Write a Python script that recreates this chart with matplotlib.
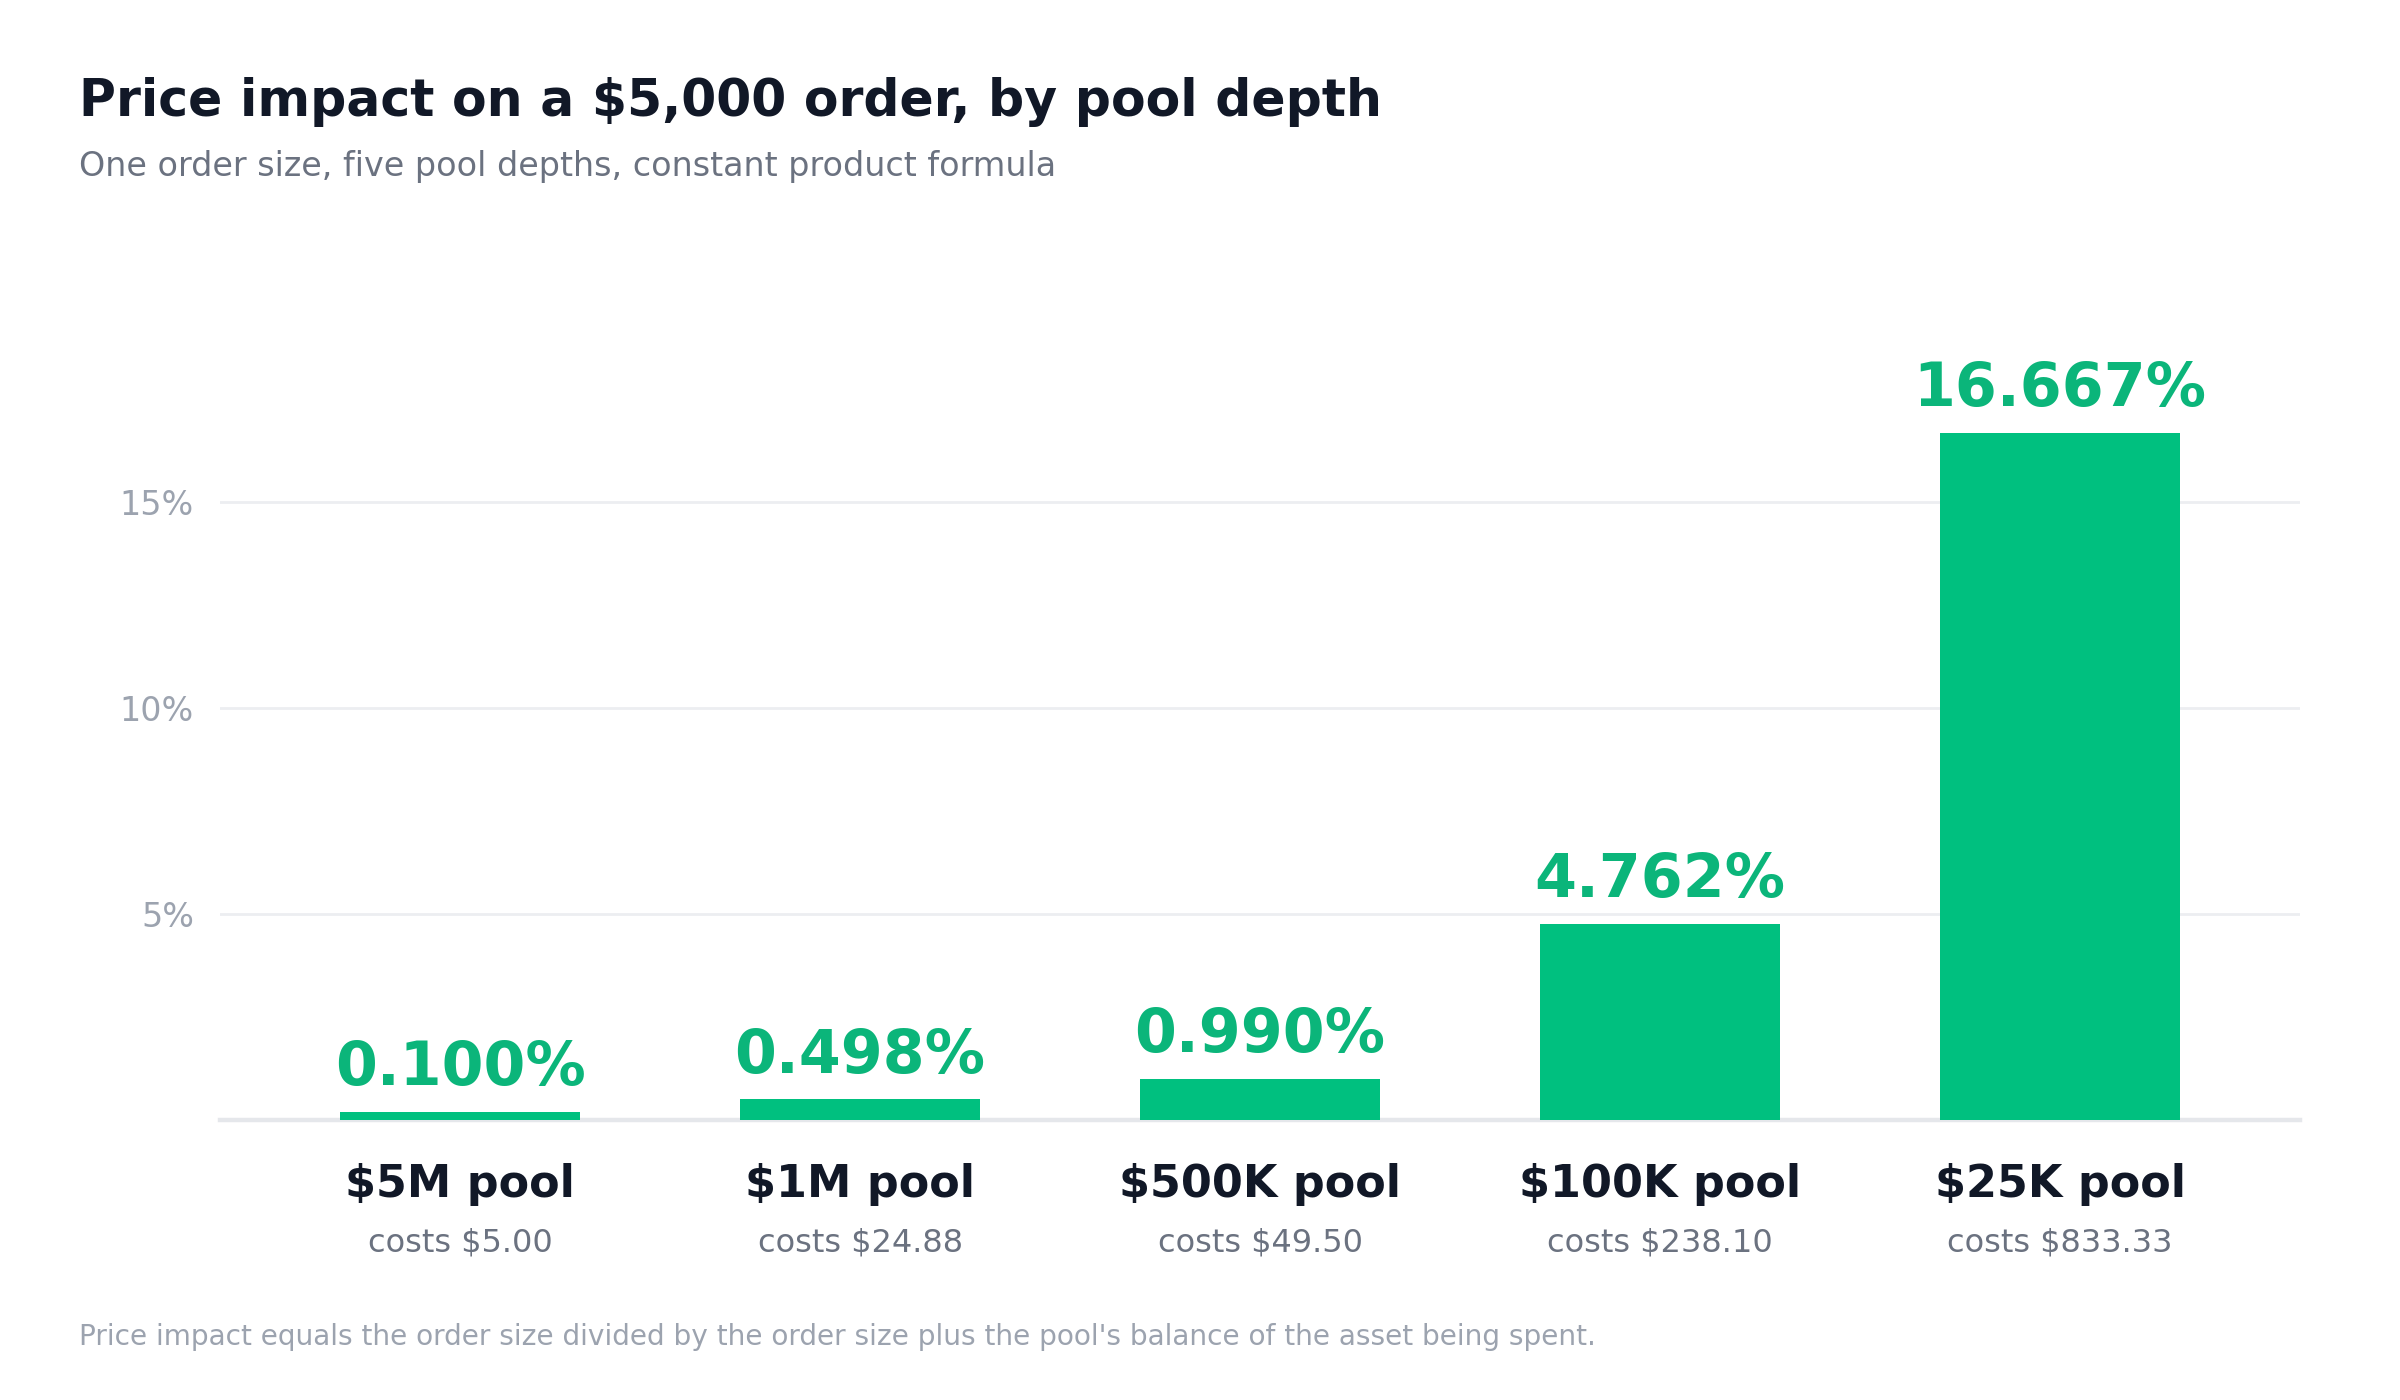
import matplotlib.pyplot as plt

plt.rcParams['font.family'] = ['DejaVu Sans']
plt.rcParams['text.parse_math'] = False

# Data
pools = ['$5M pool', '$1M pool', '$500K pool', '$100K pool', '$25K pool']
impact_pct = [0.100, 0.498, 0.990, 4.762, 16.667]
cost_usd = [5.00, 24.88, 49.50, 238.10, 833.33]
y_ticks = [5, 10, 15]

# tiny bars get a minimum drawn height so they stay visible
min_visible = 0.19
shown = [max(v, min_visible) for v in impact_pct]

bar_color = '#00c07f'
label_green = '#0bb57a'
dark = '#111827'
mid_gray = '#6b7280'
light_gray = '#9ca3af'
grid_color = '#eceef1'

fig = plt.figure(figsize=(12, 7), dpi=200)
ax = fig.add_axes([0.0917, 0.2, 0.8667, 0.5886])

x = list(range(len(pools)))
bars = ax.bar(x, shown, width=0.6, color=bar_color, zorder=3)

ax.set_xlim(-0.6, 4.6)
ax.set_ylim(0, 20)
ax.set_yticks(y_ticks)
ax.set_yticklabels([f'{t}%' for t in y_ticks])
ax.tick_params(axis='y', length=0, pad=9.4, labelsize=12, labelcolor=light_gray)
ax.set_xticks([])
ax.grid(axis='y', color=grid_color, linewidth=1.0, zorder=0)

for s in ['top', 'right', 'left']:
    ax.spines[s].set_visible(False)
ax.spines['bottom'].set_color('#e5e7eb')
ax.spines['bottom'].set_linewidth(1.6)
ax.spines['bottom'].set_zorder(2)

# Value labels above bars
for bar, val in zip(bars, impact_pct):
    ax.annotate(f'{val:.3f}%', (bar.get_x() + bar.get_width() / 2, bar.get_height()),
                xytext=(0, 5), textcoords='offset points', ha='center', va='bottom',
                fontsize=21.7, fontweight='bold', color=label_green)

# Category labels and costs under the axis
xt = ax.get_xaxis_transform()
for xi, name, cost in zip(x, pools, cost_usd):
    ax.text(xi, -0.078, name, transform=xt, ha='center', va='center',
            fontsize=16, fontweight='bold', color=dark)
    ax.text(xi, -0.149, f'costs ${cost:,.2f}', transform=xt, ha='center', va='center',
            fontsize=11.5, color=mid_gray)

fig.text(0.033, 0.9168, 'Price impact on a $5,000 order, by pool depth', ha='left',
         va='baseline', fontsize=18.2, fontweight='bold', color=dark)
fig.text(0.033, 0.874, 'One order size, five pool depths, constant product formula',
         ha='left', va='baseline', fontsize=12, color=mid_gray)
fig.text(0.033, 0.039, "Price impact equals the order size divided by the order size plus "
         "the pool's balance of the asset being spent.", ha='left', va='baseline',
         fontsize=10.1, color=light_gray)

fig.savefig('out.png', dpi=200, facecolor='white')
